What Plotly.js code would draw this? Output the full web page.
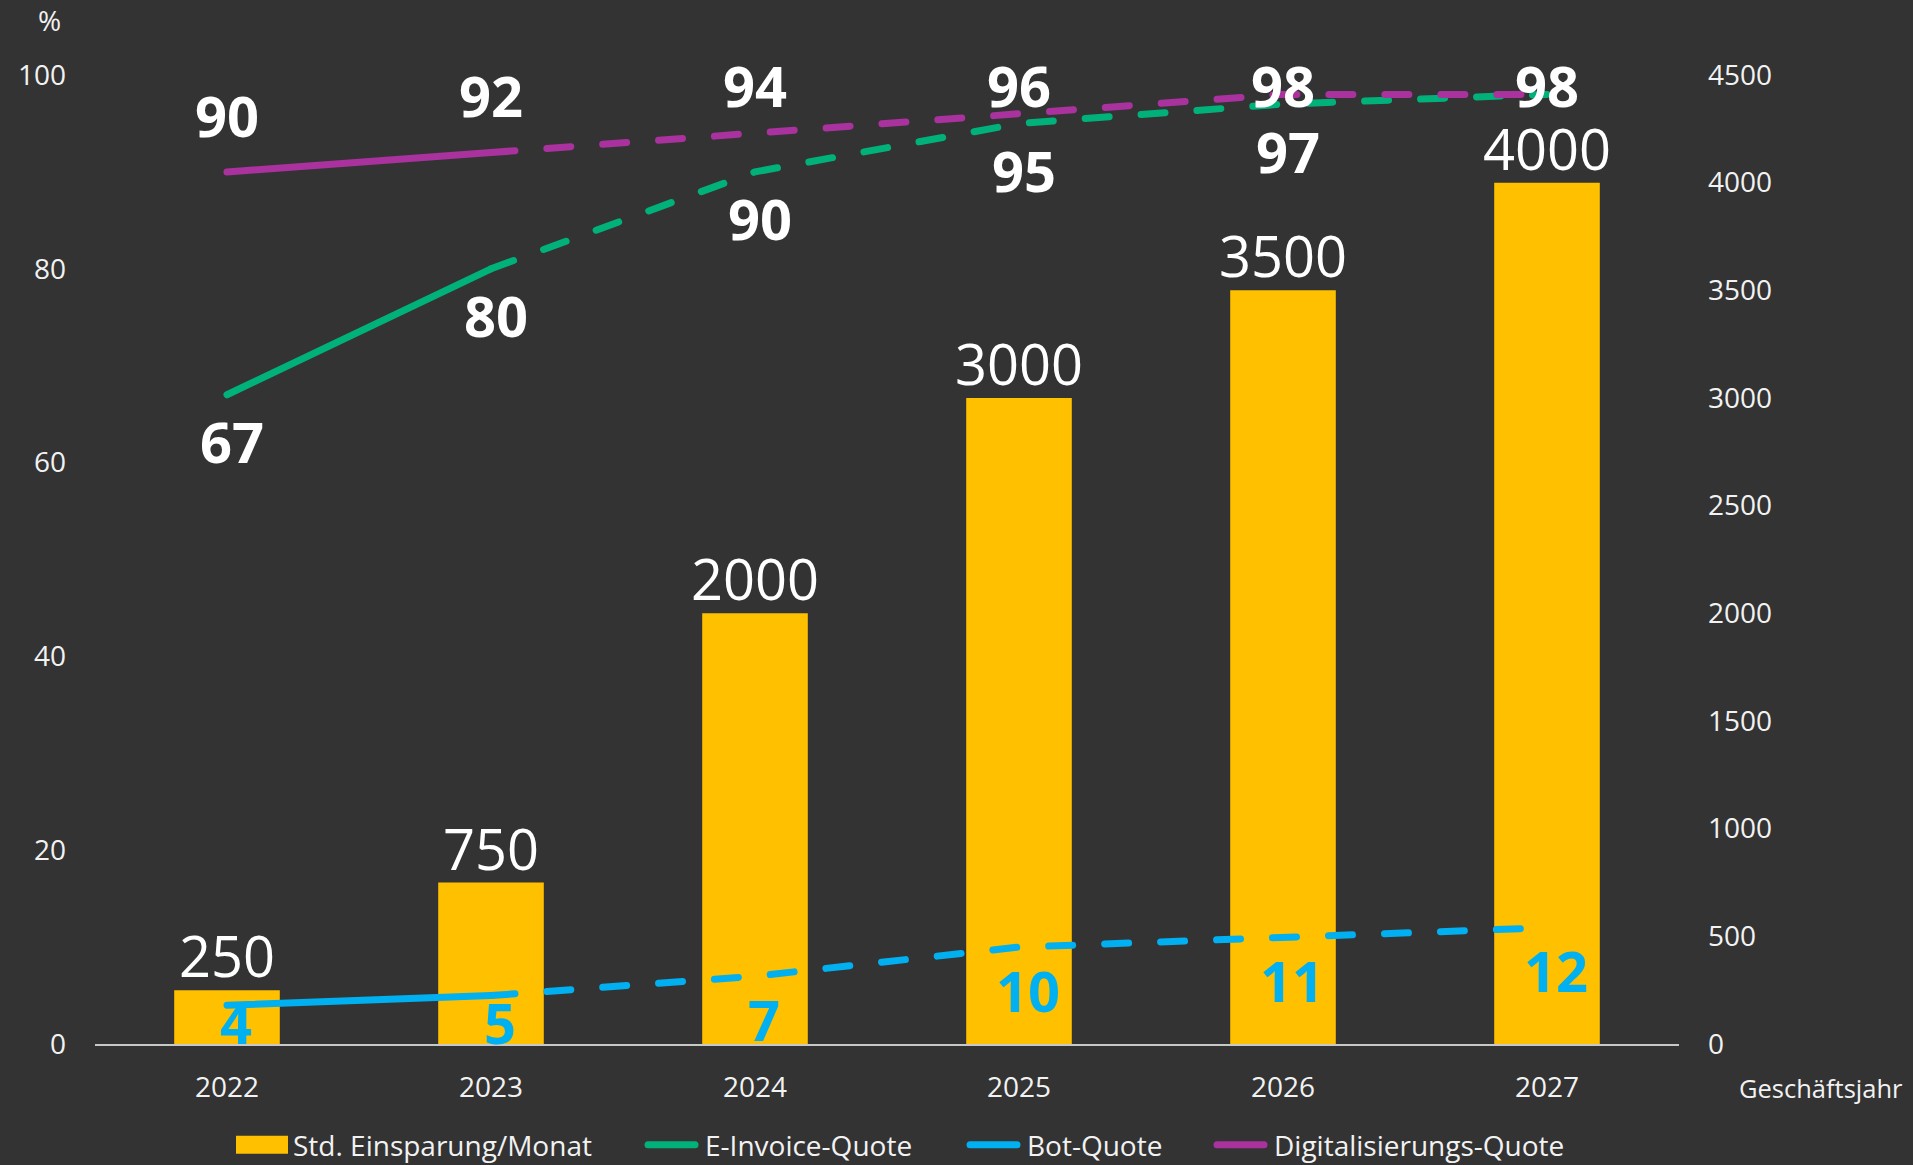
<!DOCTYPE html>
<html>
<head>
<meta charset="utf-8">
<script src="https://cdn.plot.ly/plotly-3.0.1.min.js"></script>
<style>
  html, body { margin: 0; padding: 0; background: #333333; }
  #chart { width: 1913px; height: 1165px; }
  .scatterlayer .js-line { stroke-linecap: round !important; }
  .legend .legendlines path { stroke-linecap: round !important; }
</style>
</head>
<body>
<div id="chart"></div>
<script>
// ---- data ----
const years = ['2022', '2023', '2024', '2025', '2026', '2027'];
const savingsHours = [250, 750, 2000, 3000, 3500, 4000];   // Std. Einsparung/Monat (right axis)
const eInvoiceQuote = [67, 80, 90, 95, 97, 98];             // % (left axis)
const botQuote = [4, 5, 7, 10, 11, 12];                     // %
const digitalQuote = [90, 92, 94, 96, 98, 98];              // %
const lastActualIndex = 1;                                  // 2023: solid up to here, dashed afterwards
const pctTicks = [0, 20, 40, 60, 80, 100];
const hourTicks = [0, 500, 1000, 1500, 2000, 2500, 3000, 3500, 4000, 4500];

const seriesNames = ['Std. Einsparung/Monat', 'E-Invoice-Quote', 'Bot-Quote', 'Digitalisierungs-Quote'];

// ---- styles ----
const BG = '#333333';
const C_BAR = '#FFC000';
const C_GREEN = '#00B27A';
const C_BLUE = '#00B0F0';
const C_PURPLE = '#A9329E';
const FONT = 'Open Sans, Noto Sans, sans-serif';
const TICK_FONT = { family: FONT, size: 28, color: '#F2F2F2' };
const LW = 7;
const DASH = '24px,32px';

function lineTraces(values, name, color) {
  const solidX = years.slice(0, lastActualIndex + 1);
  const solidY = values.slice(0, lastActualIndex + 1);
  const dashX = years.slice(lastActualIndex);
  const dashY = values.slice(lastActualIndex);
  return [
    { type: 'scatter', mode: 'lines', x: solidX, y: solidY, yaxis: 'y2', name: name,
      line: { color: color, width: LW }, showlegend: true, legendgroup: name, hoverinfo: 'skip' },
    { type: 'scatter', mode: 'lines', x: dashX, y: dashY, yaxis: 'y2', name: name,
      line: { color: color, width: LW, dash: DASH }, showlegend: false, legendgroup: name, hoverinfo: 'skip' }
  ];
}

const traces = [
  { type: 'bar', x: years, y: savingsHours, yaxis: 'y', name: seriesNames[0],
    marker: { color: C_BAR }, hoverinfo: 'skip' },
  ...lineTraces(eInvoiceQuote, seriesNames[1], C_GREEN),
  ...lineTraces(botQuote, seriesNames[2], C_BLUE),
  ...lineTraces(digitalQuote, seriesNames[3], C_PURPLE)
];

// ---- data labels (x given as category index) ----
const annotations = [];
const bigBold = (color) => ({ family: FONT, size: 56, color: color, weight: 'bold' });

years.forEach((yr, i) => {
  // bar labels
  annotations.push({ x: i, y: savingsHours[i], xref: 'x', yref: 'y', text: String(savingsHours[i]),
    showarrow: false, xanchor: 'center', yanchor: 'bottom', yshift: -5,
    font: { family: FONT, size: 56, color: '#FFFFFF' } });
  // digitalisation labels: above, kept inside plot top
  annotations.push({ x: i, y: Math.min(digitalQuote[i] + 5.9, 99), xref: 'x', yref: 'y2',
    text: String(digitalQuote[i]), showarrow: false, xanchor: 'center', yanchor: 'middle',
    font: bigBold('#FFFFFF') });
  // e-invoice labels: below (last one sits hidden behind the digitalisation label in the reference)
  if (i < years.length - 1) {
    annotations.push({ x: i, y: eInvoiceQuote[i] - 4.8, xref: 'x', yref: 'y2',
      text: String(eInvoiceQuote[i]), showarrow: false, xanchor: 'center', yanchor: 'middle', xshift: 5,
      font: bigBold('#FFFFFF') });
  }
  // bot labels: below, kept above the axis
  annotations.push({ x: i, y: Math.max(botQuote[i] - 4.4, 2.3), xref: 'x', yref: 'y2',
    text: String(botQuote[i]), showarrow: false, xanchor: 'center', yanchor: 'middle', xshift: 9,
    font: bigBold(C_BLUE) });
});

// axis unit / title texts
annotations.push({ xref: 'paper', yref: 'paper', x: -0.0202, y: 1.0568, text: '%', showarrow: false,
  xanchor: 'right', yanchor: 'middle', font: TICK_FONT });
annotations.push({ xref: 'paper', yref: 'paper', x: 1.0896, y: -0.0454, text: 'Geschäftsjahr', showarrow: false,
  xanchor: 'center', yanchor: 'middle', font: { family: FONT, size: 25.5, color: '#F2F2F2' } });

const layout = {
  width: 1913, height: 1165,
  margin: { l: 95, r: 234, t: 75, b: 121, pad: 0 },
  paper_bgcolor: BG, plot_bgcolor: BG,
  font: { family: FONT, color: '#F2F2F2' },
  bargap: 0.6,
  showlegend: true,
  legend: { orientation: 'h', xref: 'container', yref: 'container', x: 0.47, xanchor: 'center',
    y: 1 - 1145 / 1165, yanchor: 'middle',
    font: { family: FONT, size: 28, color: '#F2F2F2' }, bgcolor: 'rgba(0,0,0,0)', traceorder: 'normal' },
  xaxis: { type: 'category', range: [-0.5, 5.5], showgrid: false, zeroline: false,
    showline: true, linecolor: '#C8C8C8', linewidth: 2, ticks: '', tickfont: TICK_FONT,
    ticklabelstandoff: 17, fixedrange: true },
  yaxis: { side: 'right', range: [0, 4500], tickvals: hourTicks, showgrid: false, zeroline: false,
    showline: false, ticks: '', tickfont: TICK_FONT, ticklabelstandoff: 28, fixedrange: true },
  yaxis2: { overlaying: 'y', side: 'left', range: [0, 100], tickvals: pctTicks, showgrid: false,
    zeroline: false, showline: false, ticks: '', tickfont: TICK_FONT, ticklabelstandoff: 28, fixedrange: true },
  annotations: annotations
};

// legend entry placement to mimic the reference (absolute text start x per entry)
const legendTextStart = [293, 705, 1027, 1274];

Plotly.newPlot('chart', traces, layout, { staticPlot: true, displayModeBar: false }).then(() => {
  const sb = document.querySelector('.legend .scrollbox');
  if (sb) sb.removeAttribute('clip-path');
  const legendItems = document.querySelectorAll('.legend .traces');
  legendItems.forEach((item, k) => {
    // symbols: wide rectangle for the bars, long rounded line for the quotes
    item.querySelectorAll('.legendpoints path').forEach(p => p.setAttribute('d', 'M-37,-9h52v18h-52z'));
    item.querySelectorAll('.legendlines path').forEach(p => p.setAttribute('d', 'M-17,0h47'));
    // horizontal position
    const txt = item.querySelector('text.legendtext');
    if (!txt || legendTextStart[k] === undefined) return;
    const box = txt.getBoundingClientRect();
    const dx = legendTextStart[k] - box.left;
    const tr = item.getAttribute('transform') || '';
    const m = tr.match(/translate\(\s*([-\d.e]+)[ ,]+([-\d.e]+)\s*\)/);
    if (m) item.setAttribute('transform', 'translate(' + (parseFloat(m[1]) + dx) + ',' + m[2] + ')');
  });
});
</script>
</body>
</html>
